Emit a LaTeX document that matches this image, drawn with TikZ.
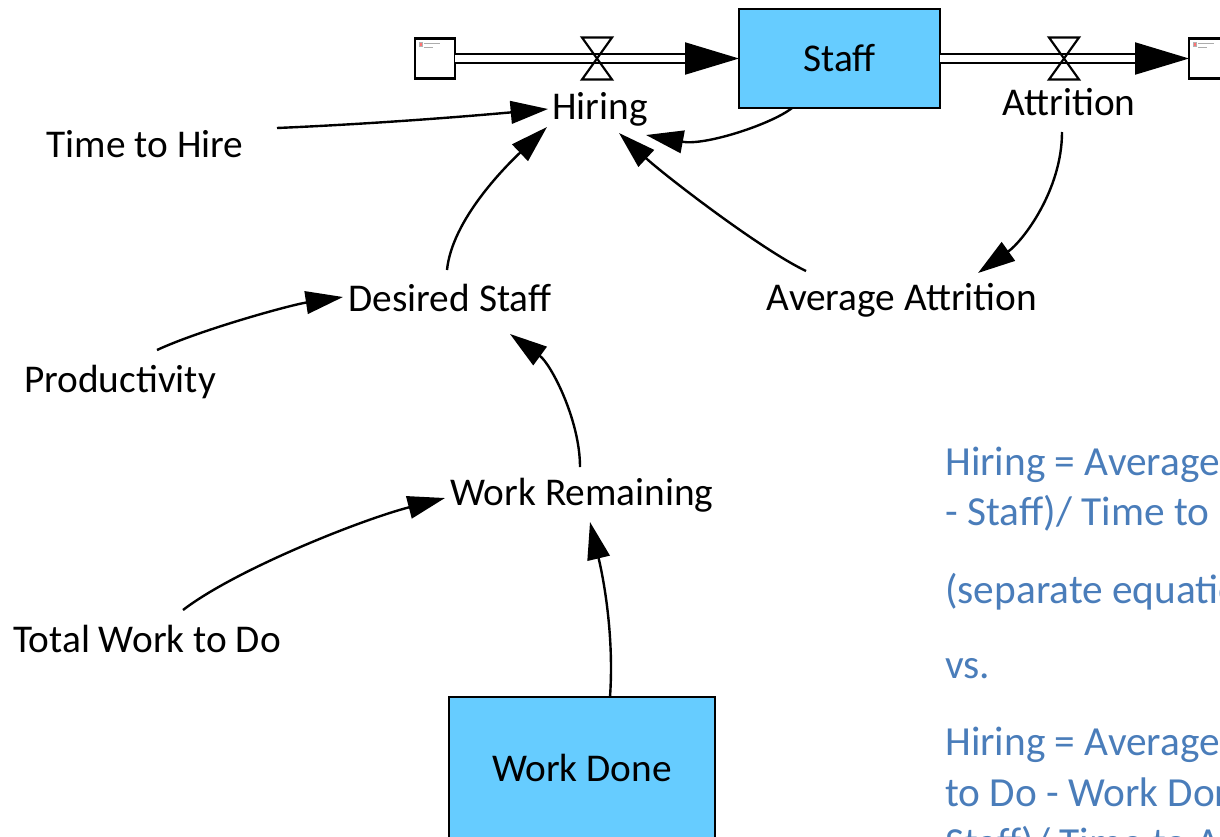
\documentclass[tikz,border=0pt]{standalone}
\usepackage{fontspec}
\setmainfont{Carlito}
\usetikzlibrary{arrows.meta}
\definecolor{stockblue}{HTML}{66CCFF}
\definecolor{noteblue}{HTML}{4A7DBA}
\begin{document}
\begin{tikzpicture}[x=0.75pt,y=-0.75pt,
  lab/.style={font=\fontsize{29.5}{35}\selectfont, inner sep=0pt, outer sep=0pt, anchor=base},
  stock/.style={draw, line width=1.6pt, fill=stockblue, font=\fontsize{29.5}{35}\selectfont, inner sep=0pt, outer sep=0pt},
  cloud/.style={draw, line width=1.6pt, fill=white, minimum size=30pt, inner sep=0pt, outer sep=0pt},
  pipe/.style={double, double distance=5pt, line width=1.7pt},
  flowtip/.style={line width=1.6pt, -{Triangle[length=40.5pt,width=24pt]}},
  link/.style={line width=1.8pt, -{Triangle[length=28pt,width=17pt]}},
  valve/.style={line width=1.6pt, line join=miter},
  note/.style={font=\fontsize{31}{37.5}\selectfont, text=noteblue, inner sep=0pt, anchor=base west},
  brokenimg/.pic={
    \draw[gray!60, line width=0.3pt, fill=red!55] (-16,-16) rectangle (-13,-12);
    \draw[gray!65, line width=0.9pt] (-11,-15) -- (5,-15) (-11,-11) -- (-2,-11);
  }]
\useasboundingbox (0,0) rectangle (1220,836);
\begin{scope}
\clip (0,0) rectangle (1220,836);

% stocks and clouds
\node[stock, minimum width=150.75pt, minimum height=74.25pt] (staff) at (839.5,58.5) {Staff};
\node[stock, minimum width=199.5pt, minimum height=105.75pt] (workdone) at (582,767.5) {Work Done};
\node[cloud] (srcL) at (435,58.5) {};
\node[cloud] (sinkR) at (1209,58.5) {};
\pic at (srcL.center) {brokenimg};
\pic at (sinkR.center) {brokenimg};

% flows
\draw[pipe, shorten >=29pt] (srcL.east) -- (staff.west);
\draw[flowtip] ([shift={(-45,0)}]staff.west) -- (staff.west);
\draw[pipe, shorten >=29pt] (staff.east) -- (sinkR.west);
\draw[flowtip] ([shift={(-45,0)}]sinkR.west) -- (sinkR.west);

% valves
\coordinate (vL) at (597,58.5);
\coordinate (vR) at (1064,58.5);
\draw[valve] (vL) ++(-15,-21) -- ++(30,0) -- ++(-30,42) -- ++(30,0) -- cycle;
\draw[valve] (vR) ++(-15,-21) -- ++(30,0) -- ++(-30,42) -- ++(30,0) -- cycle;

% variables
\node[lab] (hire) at (145,157) {Time to Hire};
\node[lab] (hiring) at (600,119) {Hiring};
\node[lab] (attr) at (1069,115) {Attrition};
\node[lab] (desired) at (450,311) {Desired Staff};
\node[lab] (avgattr) at (902,310) {Average Attrition};
\node[lab] (prod) at (120,392) {Productivity};
\node[lab] (workrem) at (582,505) {Work Remaining};
\node[lab] (total) at (147,652) {Total Work to Do};

% links
\draw[link] ([shift={(132,-29)}]hire.base) .. controls (370,124) and (460,117) .. ([shift={(-52,-10)}]hiring.base);
\draw[link] ([shift={(-3,-41)}]desired.base) .. controls (452,220) and (505,167) .. ([shift={(-53,8)}]hiring.base);
\draw[link] ([shift={(-47.5,0)}]staff.south) .. controls (772,124) and (705,146) .. ([shift={(46,16)}]hiring.base);
\draw[link] ([shift={(-96,-39)}]avgattr.base) .. controls (760,249) and (663,174) .. ([shift={(19,14)}]hiring.base);
\draw[link] ([shift={(-7,17)}]attr.base) .. controls (1062,190) and (1023,241) .. ([shift={(76,-37)}]avgattr.base);
\draw[link] ([shift={(37,-42)}]prod.base) .. controls (200,330) and (290,305) .. ([shift={(-107,-14)}]desired.base);
\draw[link] ([shift={(-2,-38)}]workrem.base) .. controls (580,420) and (551,364) .. ([shift={(60,23)}]desired.base);
\draw[link] ([shift={(36,-42)}]total.base) .. controls (235,570) and (360,520) .. ([shift={(-137,-7)}]workrem.base);
\draw[link] ([shift={(28,0)}]workdone.north) .. controls (614,640) and (605,585) .. ([shift={(8,17)}]workrem.base);

% equations, running off the right and bottom edges
\node[note] (n1) at (945,475) {Hiring = Average};
\node[note] (n2) at (945,525) {- Staff)/ Time to};
\node[note] (n3) at (945,603) {(separate equations)};
\node[note] (n4) at (945,678) {vs.};
\node[note] (n5) at (945,755) {Hiring = Average};
\node[note] (n6) at (945,806) {to Do - Work Done};
\node[note] (n7) at (945,856) {Staff)/ Time to A};
\end{scope}
\end{tikzpicture}
\end{document}
